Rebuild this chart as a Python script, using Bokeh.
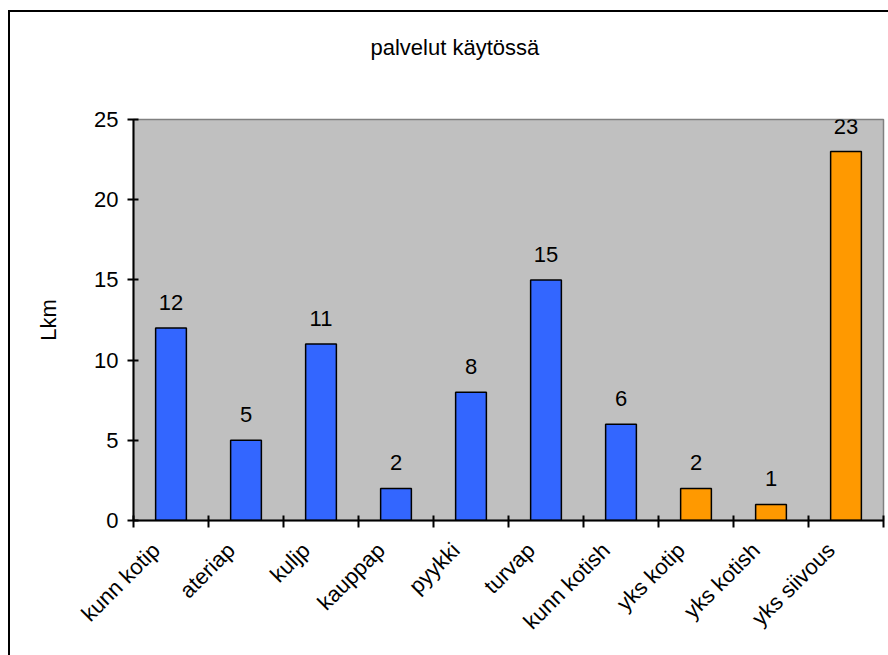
from bokeh.plotting import figure
from bokeh.models import (ColumnDataSource, LabelSet, FixedTicker, CustomJSTickFormatter,
                          Title, Range1d)
from bokeh.core.properties import value
from bokeh.transform import factor_cmap
from bokeh.embed import file_html
from bokeh.resources import INLINE
import math

# ---- data ----
categories = ["kunn kotip", "ateriap", "kuljp", "kauppap", "pyykki",
              "turvap", "kunn kotish", "yks kotip", "yks kotish", "yks siivous"]
counts = [12, 5, 11, 2, 8, 15, 6, 2, 1, 23]
provider = ["kunta"] * 7 + ["yksityinen"] * 3
y_ticks = [0, 5, 10, 15, 20, 25]
title_text = "palvelut käytössä"
y_label = "Lkm"

FONT = "Liberation Sans"
FS = "22px"
LABEL_SHIFT = 0.2  # category labels sit slightly left of the category centre

src = ColumnDataSource(dict(
    x=list(range(len(categories))),
    count=counts,
    prov=provider,
    lbl=[str(c) for c in counts],
))

p = figure(width=880, height=645, output_backend="svg", toolbar_location=None,
           x_range=Range1d(-0.5, len(categories) - 0.5), y_range=Range1d(0, 25),
           min_border_left=123, min_border_right=7, min_border_top=107, min_border_bottom=137)
p.styles = {"border-top": "2px solid black", "border-left": "2px solid black",
            "margin-left": "8px", "margin-top": "10px"}
p.background_fill_color = "#C0C0C0"
p.border_fill_color = "white"
p.outline_line_color = "#808080"
p.outline_line_width = 1.5
p.xgrid.visible = False
p.ygrid.visible = False

p.vbar(x="x", top="count", width=0.41, source=src,
       fill_color=factor_cmap("prov", ["#3366FF", "#FF9900"], ["kunta", "yksityinen"]),
       line_color="black", line_width=1.5)

labels = LabelSet(x="x", y="count", text="lbl", source=src, text_align="center",
                  text_baseline="alphabetic", y_offset=18,
                  text_font=value(FONT), text_font_size=value(FS), text_color="black")
p.add_layout(labels)

# y axis
ya = p.yaxis[0]
ya.ticker = FixedTicker(ticks=y_ticks)
ya.axis_label = y_label
ya.axis_label_text_font = FONT
ya.axis_label_text_font_size = FS
ya.axis_label_text_font_style = "normal"
ya.axis_label_text_color = "black"
ya.axis_label_standoff = 30
ya.major_label_text_font = FONT
ya.major_label_text_font_size = FS
ya.major_label_text_color = "black"
ya.major_label_standoff = 9
ya.axis_line_color = "black"
ya.axis_line_width = 2
ya.major_tick_line_color = "black"
ya.major_tick_line_width = 2
ya.major_tick_in = 5
ya.major_tick_out = 6
ya.minor_tick_line_color = None

# x axis: tick marks between categories, rotated category labels
xa = p.xaxis[0]
xa.ticker = FixedTicker(ticks=[i - LABEL_SHIFT for i in range(len(categories))],
                        minor_ticks=[i - 0.5 for i in range(len(categories) + 1)])
xa.formatter = CustomJSTickFormatter(args=dict(labels=categories),
                                     code="return labels[Math.round(tick)] || '';")
xa.major_label_orientation = math.pi / 4
xa.major_label_text_font = FONT
xa.major_label_text_font_size = FS
xa.major_label_text_color = "black"
xa.major_label_standoff = 19
xa.major_tick_line_color = None
xa.major_tick_in = 0
xa.major_tick_out = 0
xa.minor_tick_line_color = "black"
xa.minor_tick_line_width = 2
xa.minor_tick_in = 5
xa.minor_tick_out = 7
xa.axis_line_color = "black"
xa.axis_line_width = 2

# spacer between plot area and title, then the title itself (further out)
spacer = Title(text=" ", standoff=28, text_font=FONT, text_font_size=FS)
p.add_layout(spacer, "above")
t = Title(text=title_text, align="left", offset=237, standoff=10,
          text_font=FONT, text_font_size=FS, text_font_style="normal", text_color="black")
p.add_layout(t, "above")

open("out.html", "w").write(file_html(p, INLINE))
